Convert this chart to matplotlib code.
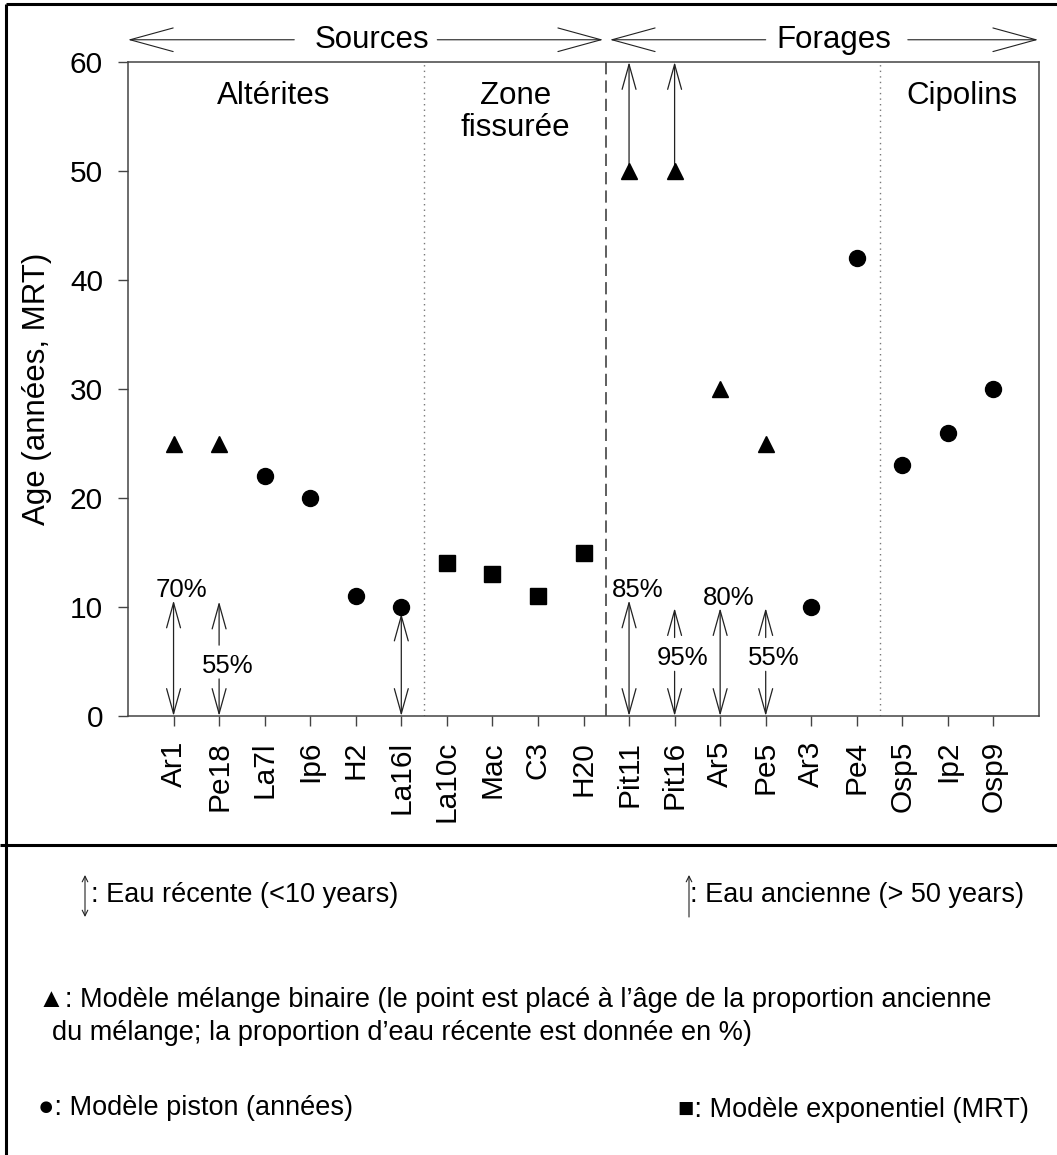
import matplotlib.pyplot as plt

plt.rcParams['font.family'] = ['Liberation Sans', 'DejaVu Sans']

# data
sites = ['Ar1', 'Pe18', 'La7l', 'Ip6', 'H2', 'La16l', 'La10c', 'Mac', 'C3', 'H20',
         'Pit11', 'Pit16', 'Ar5', 'Pe5', 'Ar3', 'Pe4', 'Osp5', 'Ip2', 'Osp9']
models = ['binaire', 'binaire', 'piston', 'piston', 'piston', 'piston',
          'expo', 'expo', 'expo', 'expo',
          'binaire', 'binaire', 'binaire', 'binaire', 'piston', 'piston',
          'piston', 'piston', 'piston']
ages = [25, 25, 22, 20, 11, 10, 14, 13, 11, 15, 50, 50, 30, 25, 10, 42, 23, 26, 30]

# recent water (< 10 years), double arrows with recent proportion on top
recent_sites = ['Ar1', 'La16l', 'Pit11', 'Ar5']
recent_tops = [10.6, 9.4, 10.6, 9.9]
recent_labels = ['70%', '', '85%', '80%']
# recent water arrows cut by the proportion label
split_sites = ['Pe18', 'Pit16', 'Pe5']
split_tops = [10.5, 9.9, 9.9]
split_labels = ['55%', '95%', '55%']
split_label_y = [4.6, 5.3, 5.3]
# old water (> 50 years)
old_sites = ['Pit11', 'Pit16']
old_top = 60

groups = ['Altérites', 'Zone\nfissurée', 'Cipolins']
group_x = [3.2, 8.5, 18.3]
group_bounds = [6.5, 16.5]
aquifer_bound = 10.5

pos = {s: i + 1 for i, s in enumerate(sites)}
ink = '#222222'

fig = plt.figure(figsize=(10.57, 11.55), dpi=100)
W, H = 1057, 1155
ax = fig.add_axes([128 / W, 1 - 716 / H, 911 / W, 654 / H])

# overlay in pixel coords for frame and legend
ov = fig.add_axes([0, 0, 1, 1], zorder=-1)
ov.set_xlim(0, W)
ov.set_ylim(H, 0)
ov.axis('off')


def arrow(a, x0, y0, x1, y1, style='->', hl=18, hw=5, lw=0.9, trans=None):
    a.annotate('', xy=(x1, y1), xytext=(x0, y0),
               xycoords=trans or 'data', textcoords=trans or 'data',
               arrowprops=dict(arrowstyle=f'{style},head_length={hl},head_width={hw}',
                               lw=lw, color=ink, shrinkA=0, shrinkB=0,
                               mutation_scale=1),
               annotation_clip=False)


# markers
style = {'binaire': ('^', 12), 'piston': ('o', 11.5), 'expo': ('s', 11)}
for m, (mk, ms) in style.items():
    xs = [pos[s] for s, mm in zip(sites, models) if mm == m]
    ys = [a for a, mm in zip(ages, models) if mm == m]
    ax.plot(xs, ys, ls='none', marker=mk, ms=ms, color='black', zorder=5)

# recent water arrows
for s, top, lab in zip(recent_sites, recent_tops, recent_labels):
    arrow(ax, pos[s], 0, pos[s], top, style='<->')
    if lab:
        ax.text(pos[s] + 0.18, top + 0.95, lab, ha='center', va='center', fontsize=18.5)

for s, top, lab, ly in zip(split_sites, split_tops, split_labels, split_label_y):
    arrow(ax, pos[s], ly + 1.9, pos[s], top)
    arrow(ax, pos[s], ly - 1.2, pos[s], 0)
    ax.text(pos[s] + 0.18, ly, lab, ha='center', va='center', fontsize=18.5)

# old water arrows
for s in old_sites:
    arrow(ax, pos[s], ages[sites.index(s)], pos[s], old_top)

# separators
for b in group_bounds:
    ax.axvline(b, ls=(0, (1, 3)), color='#777777', lw=1)
ax.axvline(aquifer_bound, ls=(0, (8, 4)), color='#333333', lw=1.1)

# group names, one text per line
for g, gx in zip(groups, group_x):
    for k, line in enumerate(g.split('\n')):
        ax.text(gx, 56.9 - 3.0 * k, line, ha='center', va='center', fontsize=22.5)

# top arrows Sources / Forages
tr = ax.get_xaxis_transform()
ya = 1.034
ax.text(5.36, ya, 'Sources', transform=tr, ha='center', va='center', fontsize=22.5)
ax.text(15.5, ya, 'Forages', transform=tr, ha='center', va='center', fontsize=22.5)
for x0, x1 in [(3.65, 0.0), (6.79, 10.43), (14.0, 10.58), (17.12, 19.98)]:
    arrow(ax, x0, ya, x1, ya, hl=31, hw=8.5, lw=0.8, trans=tr)

ax.set_xlim(0, 20)
ax.set_ylim(0, 60)
ax.set_xticks(range(1, len(sites) + 1))
ax.set_xticklabels(sites, rotation=90, fontsize=21.5)
ax.set_yticks(range(0, 61, 10))
ax.tick_params(axis='y', labelsize=21.5, length=7, width=1, color='#444444', pad=11)
ax.tick_params(axis='x', length=7, width=1, color='#444444', pad=11)
for sp in ax.spines.values():
    sp.set_color('#444444')
    sp.set_linewidth(1.1)
ax.set_ylabel('Age (années, MRT)', fontsize=22.5)
ax.yaxis.set_label_coords(-0.083, 0.5)

# outer frame
ov.plot([6, 6], [4, H], color='black', lw=2.2, solid_capstyle='butt')
ov.plot([6, W], [4, 4], color='black', lw=2.2, solid_capstyle='butt')
ov.plot([0, W], [845, 845], color='black', lw=2.2, solid_capstyle='butt')

# legend
fs = 19.5
arrow(ov, 85, 875, 85, 917, style='<->', hl=4, hw=2, lw=0.8)
ov.text(91, 895, ': Eau récente (<10 years)', ha='left', va='center', fontsize=fs)
arrow(ov, 689, 917, 689, 875, hl=4, hw=2, lw=0.8)
ov.text(690, 895, ': Eau ancienne (> 50 years)', ha='left', va='center', fontsize=fs)
ov.text(38, 1000, '▲: Modèle mélange binaire (le point est placé à l’âge de la proportion ancienne',
        ha='left', va='center', fontsize=fs)
ov.text(52, 1033, 'du mélange; la proportion d’eau récente est donnée en %)',
        ha='left', va='center', fontsize=fs)
ov.text(38, 1108, '●: Modèle piston (années)', ha='left', va='center', fontsize=fs)
ov.text(678, 1110, '■: Modèle exponentiel (MRT)', ha='left', va='center', fontsize=fs)

fig.savefig('out.png', dpi=100)
